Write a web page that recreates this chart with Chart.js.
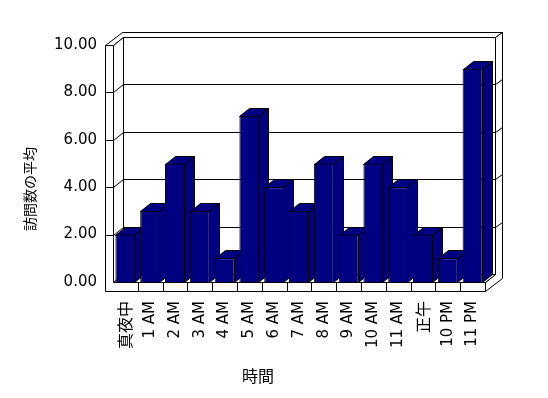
<!DOCTYPE html>
<html><head><meta charset="utf-8">
<script src="https://cdn.jsdelivr.net/npm/chart.js@4/dist/chart.umd.min.js"></script>
<style>html,body{margin:0;padding:0;background:#fff;overflow:hidden}</style>
</head><body>
<canvas id="c" width="548" height="398"></canvas>
<script>
const categories = ['真夜中','1 AM','2 AM','3 AM','4 AM','5 AM','6 AM','7 AM','8 AM','9 AM','10 AM','11 AM','正午','10 PM','11 PM'];
const visits = [2,3,5,3,1,7,4,3,5,2,5,4,2,1,9];
const yMin = 0, yMax = 10, yStep = 2;
const xTitle = '時間';
const yTitle = '訪問数の平均';

const DX = 10, DY = -8;   // depth of floor / bars
const BX = 7, BY = -5;    // back wall slab thickness
const WALL = 8;           // left wall thickness
const FH = 9;             // floor thickness
const BAR = '#000080';
const CJK = '"Noto Sans CJK JP", sans-serif';
const LAT = '"DejaVu Sans", sans-serif';
const isCJK = s => /[\u3000-\u9fff]/.test(s);

function P(ctx, pts, fill) {
  ctx.beginPath();
  pts.forEach(([x, y], i) => i ? ctx.lineTo(x + .5, y + .5) : ctx.moveTo(x + .5, y + .5));
  ctx.closePath();
  ctx.fillStyle = fill; ctx.fill(); ctx.stroke();
}
function Ln(ctx, x1, y1, x2, y2) {
  ctx.beginPath(); ctx.moveTo(x1 + .5, y1 + .5); ctx.lineTo(x2 + .5, y2 + .5); ctx.stroke();
}

const box3d = {
  id: 'box3d',
  beforeDatasetsDraw(chart) {
    const { ctx, chartArea: a, scales: { x, y } } = chart;
    const L = Math.round(a.left), R = Math.round(a.right), T = Math.round(a.top), B = Math.round(a.bottom);
    ctx.save();
    ctx.lineWidth = 1; ctx.strokeStyle = '#000';
    // back wall face
    P(ctx, [[L + DX, T + DY], [R + DX, T + DY], [R + DX, B + DY], [L + DX, B + DY]], '#fff');
    // top of left wall + back slab
    P(ctx, [[L - WALL, T], [L, T], [L + DX, T + DY], [R + DX, T + DY], [R + DX + BX, T + DY + BY], [L - WALL + DX + BX, T + DY + BY]], '#fff');
    // right side of back slab + floor
    P(ctx, [[R, B], [R + DX, B + DY], [R + DX, T + DY], [R + DX + BX, T + DY + BY], [R + DX + BX, B + FH + DY + BY], [R, B + FH]], '#fff');
    // left wall inner face
    P(ctx, [[L, T], [L + DX, T + DY], [L + DX, B + DY], [L, B]], '#fff');
    // floor top
    P(ctx, [[L, B], [R, B], [R + DX, B + DY], [L + DX, B + DY]], '#fff');
    // front faces: left wall + floor
    P(ctx, [[L - WALL, T], [L, T], [L, B], [R, B], [R, B + FH], [L - WALL, B + FH]], '#fff');
    // gridlines
    y.ticks.forEach(t => {
      if (t.value <= yMin || t.value >= yMax) return;
      const yy = Math.round(y.getPixelForValue(t.value));
      Ln(ctx, L - WALL, yy, L, yy);
      Ln(ctx, L, yy, L + DX, yy + DY);
      Ln(ctx, L + DX, yy + DY, R + DX, yy + DY);
      Ln(ctx, R + DX, yy + DY, R + DX + BX, yy + DY + BY);
    });
    // category separators on floor front
    for (let i = 1; i < categories.length; i++) {
      const xx = Math.round((x.getPixelForValue(i - 1) + x.getPixelForValue(i)) / 2);
      Ln(ctx, xx, B, xx, B + FH);
    }
    // bar tops and sides (fronts drawn by Chart.js afterwards)
    const meta = chart.getDatasetMeta(0);
    meta.data.forEach(el => {
      const p = el.getProps(['x', 'y', 'base', 'width'], true);
      const l = Math.round(p.x - p.width / 2), r = Math.round(p.x + p.width / 2) - 1;
      const top = Math.round(p.y), base = Math.round(p.base);
      P(ctx, [[r, top], [r + DX, top + DY], [r + DX, base + DY], [r, base]], BAR);
      P(ctx, [[l, top], [r, top], [r + DX, top + DY], [l + DX, top + DY]], BAR);
    });
    ctx.restore();
  },
  afterDraw(chart) {
    const { ctx } = chart;
    ctx.save();
    ctx.fillStyle = '#000';
    ctx.textAlign = 'center'; ctx.textBaseline = 'middle';
    ctx.font = '16px ' + CJK;
    ctx.fillText(xTitle, 258, 376);
    ctx.translate(30, 189);
    ctx.rotate(-Math.PI / 2);
    ctx.font = '14px ' + CJK;
    ctx.fillText(yTitle, 0, 0);
    ctx.restore();
  }
};

new Chart(document.getElementById('c'), {
  type: 'bar',
  data: {
    labels: categories,
    datasets: [{
      data: visits,
      backgroundColor: BAR,
      borderColor: '#000',
      borderWidth: 1,
      categoryPercentage: 1,
      barPercentage: 0.806
    }]
  },
  options: {
    responsive: false,
    animation: false,
    events: [],
    layout: { padding: { left: 0, top: 45, right: 63, bottom: 0 } },
    plugins: { legend: { display: false }, tooltip: { enabled: false } },
    scales: {
      x: {
        grid: { display: false, drawTicks: false },
        border: { display: false },
        afterFit(s) { s.height = 116; },
        ticks: {
          autoSkip: false, minRotation: 90, maxRotation: 90, padding: 19, color: '#000',
          font: c => {
            const lab = categories[c.index] || '';
            return isCJK(lab) ? { family: CJK, size: 16 } : { family: LAT, size: 15 };
          }
        }
      },
      y: {
        min: yMin, max: yMax,
        grid: { display: false, drawTicks: false },
        border: { display: false },
        afterFit(s) { s.width = 113; },
        ticks: {
          stepSize: yStep, padding: 16, color: '#000',
          font: { family: LAT, size: 15 },
          callback: v => Number(v).toFixed(2)
        }
      }
    }
  },
  plugins: [box3d]
});
</script>
</body></html>
